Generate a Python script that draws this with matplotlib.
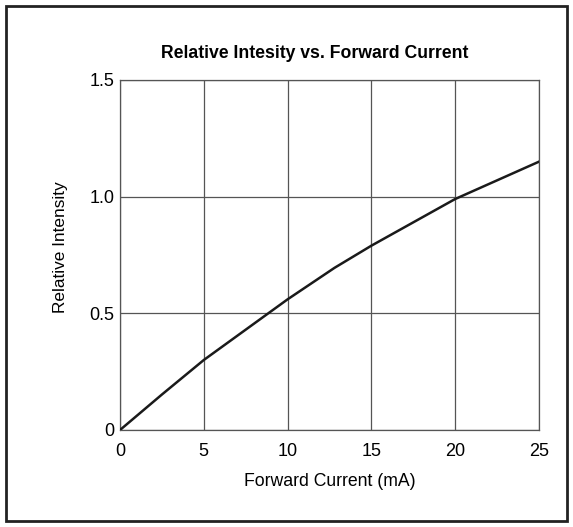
import matplotlib.pyplot as plt
from matplotlib.patches import Rectangle

# Данные
current_ma = [0, 2.5, 5, 7.5, 10, 12.8, 15, 17.5, 20, 22.5, 25]
rel_intensity = [0, 0.152, 0.30, 0.43, 0.56, 0.695, 0.79, 0.89, 0.99, 1.07, 1.15]
x_ticks = [0, 5, 10, 15, 20, 25]
y_ticks = [0, 0.5, 1.0, 1.5]
y_tick_labels = ['0', '0.5', '1.0', '1.5']

plt.rcParams['font.family'] = ['Liberation Sans', 'DejaVu Sans']

fig = plt.figure(figsize=(5.73, 5.27), dpi=100)
ax = fig.add_axes([120 / 573, 1 - 430 / 527, 419 / 573, 350 / 527])

ax.plot(current_ma, rel_intensity, color='#1a1a1a', linewidth=1.8, zorder=3)

ax.set_xlim(0, 25)
ax.set_ylim(0, 1.5)
ax.set_xticks(x_ticks)
ax.set_yticks(y_ticks)
ax.set_yticklabels(y_tick_labels)
ax.tick_params(length=0, labelsize=13)
ax.tick_params(axis='x', pad=9)
ax.tick_params(axis='y', pad=4)

# Сетка
ax.grid(True, color='#555555', linewidth=0.9)
for spine in ax.spines.values():
    spine.set_color('#555555')
    spine.set_linewidth(0.9)

# Заголовок чуть левее центра осей, как в оригинале
fig.text(315 / 573, 1 - 58 / 527, 'Relative Intesity vs. Forward Current',
         fontsize=12.7, fontweight='bold', ha='center', va='baseline')

ax.set_xlabel('Forward Current (mA)', fontsize=12.7, va='top')
ax.xaxis.set_label_coords(0.5, -0.122)
ax.set_ylabel('Relative Intensity', fontsize=12.4)
ax.yaxis.set_label_coords(-0.124, 0.523)

# Рамка вокруг всей картинки
fig.patches.append(Rectangle((6 / 573, 6 / 527), 561 / 573, 515 / 527,
                             transform=fig.transFigure, fill=False,
                             edgecolor='#222222', linewidth=2))

fig.savefig('out.png', dpi=100)
